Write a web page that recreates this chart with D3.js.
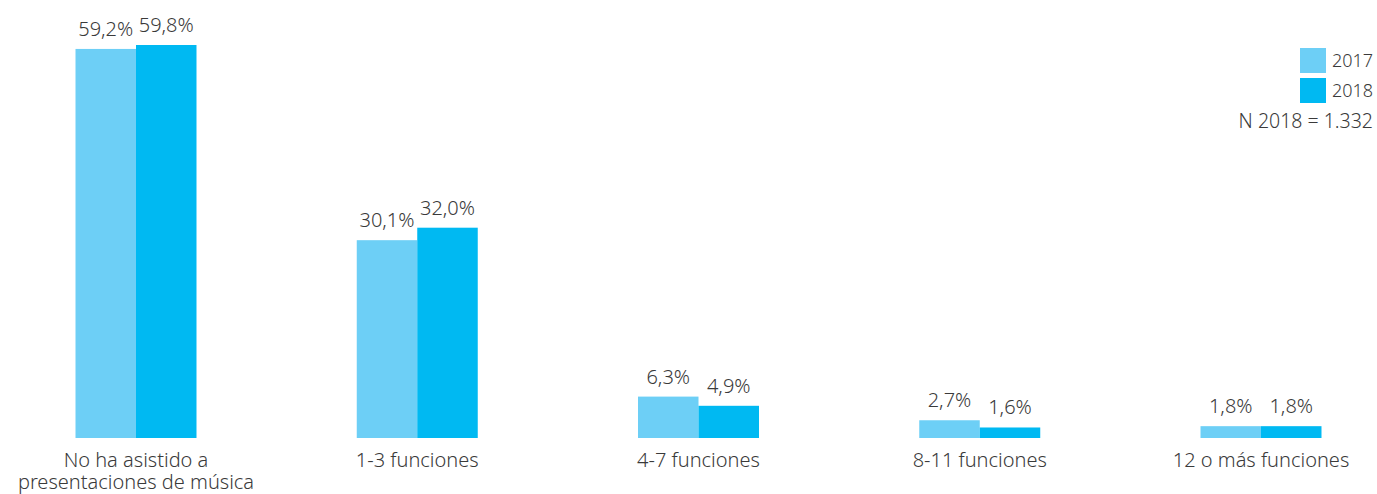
<!DOCTYPE html>
<html><head><meta charset="utf-8">
<script src="https://cdn.jsdelivr.net/npm/d3@7"></script>
<style>body{margin:0;background:#fff;} text{font-family:"Noto Sans",sans-serif;fill:#3a3a3a;font-weight:300;}</style>
</head><body>
<script>
const categories = [["No ha asistido a","presentaciones de música"],["1-3 funciones"],["4-7 funciones"],["8-11 funciones"],["12 o más funciones"]];
const series = ["2017","2018"];
const values2017 = [59.2, 30.1, 6.3, 2.7, 1.8];
const values2018 = [59.8, 32.0, 4.9, 1.6, 1.8];
const colors = ["#6dcff6","#00b9f2"];
const nLabel = "N 2018 = 1.332";

const W=1377,H=494;
const svg=d3.select("body").append("svg").attr("width",W).attr("height",H);
const base=438;
const x=d3.scaleBand().domain(d3.range(categories.length)).range([-4.625,1401.625]).paddingInner(0.5698).paddingOuter(0.2849);
const xs=d3.scaleBand().domain(series).range([0,x.bandwidth()]);
const y=d3.scaleLinear().domain([0,59.8]).range([base,45]);
const fmt=v=>d3.format(".1f")(v).replace(".",",")+"%";
const data=[values2017,values2018];
const g=svg.append("g");
categories.forEach((c,i)=>{
  series.forEach((s,j)=>{
    const v=data[j][i];
    g.append("rect").attr("x",x(i)+xs(s)).attr("width",xs.bandwidth()).attr("y",y(v)).attr("height",base-y(v)).attr("fill",colors[j]);
    g.append("text").attr("x",x(i)+xs(s)+xs.bandwidth()/2).attr("y",y(v)-13).attr("text-anchor","middle").attr("font-size",20).text(fmt(v));
  });
  c.forEach((line,k)=>g.append("text").attr("text-anchor","middle").attr("font-size",20)
    .attr("x",x(i)+x.bandwidth()/2).attr("y",467+k*22).text(line));
});
const lg=svg.append("g");
series.forEach((s,j)=>{
  lg.append("rect").attr("x",1300).attr("y",48+j*30).attr("width",26).attr("height",25).attr("fill",colors[j]);
  lg.append("text").attr("x",1332).attr("y",67+j*30).attr("font-size",18).text(s);
});
lg.append("text").attr("x",1373).attr("y",128).attr("text-anchor","end").attr("font-size",19.5).text(nLabel);
</script>
</body></html>
